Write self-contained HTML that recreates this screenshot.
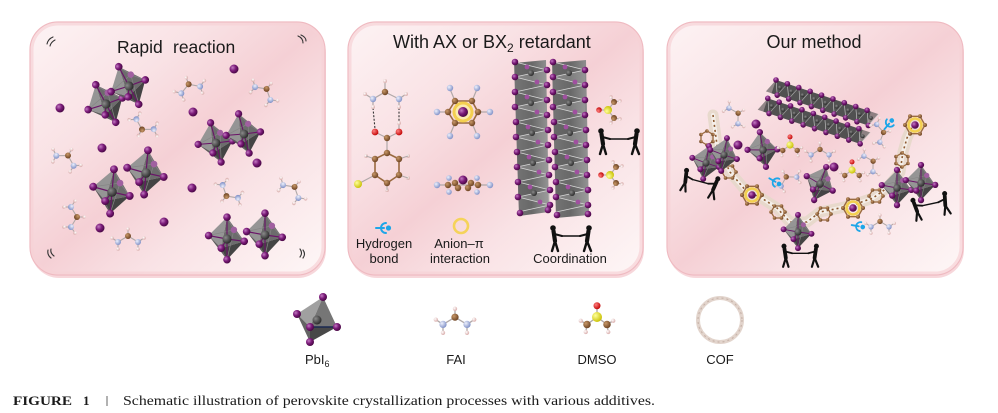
<!DOCTYPE html>
<html><head><meta charset="utf-8">
<style>
html,body{margin:0;padding:0;background:#fff;}
svg{display:block;}
text{font-family:"Liberation Sans",Arial,sans-serif;fill:#1a1a1a;}
.serif{font-family:"Liberation Serif","Times New Roman",serif;}
</style></head>
<body>
<svg width="998" height="413" viewBox="0 0 998 413" xmlns="http://www.w3.org/2000/svg" xmlns:xlink="http://www.w3.org/1999/xlink">
<defs>
  <linearGradient id="pg" x1="0" y1="0" x2="1" y2="1">
    <stop offset="0" stop-color="#fdf3f4"/>
    <stop offset="0.3" stop-color="#f9e2e5"/>
    <stop offset="0.5" stop-color="#f5d0d5"/>
    <stop offset="0.68" stop-color="#f9e2e5"/>
    <stop offset="1" stop-color="#fef7f7"/>
  </linearGradient>
  <linearGradient id="divg" x1="0" y1="0" x2="0" y2="1">
    <stop offset="0" stop-color="#f6c8cd"/>
    <stop offset="0.75" stop-color="#e79aa6"/>
    <stop offset="1" stop-color="#b070c8"/>
  </linearGradient>
  <linearGradient id="colg" x1="0" y1="0" x2="1" y2="0">
    <stop offset="0" stop-color="#767676"/>
    <stop offset="0.5" stop-color="#686868"/>
    <stop offset="1" stop-color="#959595"/>
  </linearGradient>
  <radialGradient id="gP" cx=".35" cy=".35" r=".7">
    <stop offset="0" stop-color="#c27ac2"/>
    <stop offset="0.5" stop-color="#7a1a78"/>
    <stop offset="1" stop-color="#440640"/>
  </radialGradient>
  <radialGradient id="gG" cx=".35" cy=".35" r=".7">
    <stop offset="0" stop-color="#8a8a8a"/>
    <stop offset="1" stop-color="#262626"/>
  </radialGradient>
  <radialGradient id="gB" cx=".35" cy=".35" r=".7">
    <stop offset="0" stop-color="#c89868"/>
    <stop offset="1" stop-color="#6a4020"/>
  </radialGradient>
  <radialGradient id="gN" cx=".35" cy=".35" r=".7">
    <stop offset="0" stop-color="#eef1fc"/>
    <stop offset="1" stop-color="#7d8ec6"/>
  </radialGradient>
  <radialGradient id="gH" cx=".35" cy=".35" r=".7">
    <stop offset="0" stop-color="#ffffff"/>
    <stop offset="1" stop-color="#d8aaa8"/>
  </radialGradient>
  <radialGradient id="gS" cx=".35" cy=".35" r=".7">
    <stop offset="0" stop-color="#ffff9a"/>
    <stop offset="1" stop-color="#c8c000"/>
  </radialGradient>
  <radialGradient id="gO" cx=".35" cy=".35" r=".7">
    <stop offset="0" stop-color="#ff8080"/>
    <stop offset="1" stop-color="#c00000"/>
  </radialGradient>

  <g id="oct">
    <polygon points="0,-19 -16,-3 -5,8" fill="#959595"/>
    <polygon points="0,-19 -5,8 15,2" fill="#6c6c6c"/>
    <polygon points="-16,-3 -5,8 0,18" fill="#5c5c5c"/>
    <polygon points="-5,8 15,2 0,18" fill="#444"/>
    <path d="M0,-19 L6,-8 L15,2 M6,-8 L-16,-3 M6,-8 L0,18" stroke="#858585" stroke-width=".6" fill="none"/>
    <g stroke="#6a1468" stroke-width="1">
      <line x1="0" y1="0" x2="0" y2="-19"/><line x1="0" y1="0" x2="-16" y2="-3"/>
      <line x1="0" y1="0" x2="-5" y2="8"/><line x1="0" y1="0" x2="15" y2="2"/>
      <line x1="0" y1="0" x2="0" y2="18"/>
    </g>
    <circle cx="0" cy="0" r="4" fill="url(#gG)"/>
    <circle cx="6" cy="-8" r="2.8" fill="#a060a0"/>
    <circle cx="0" cy="-19" r="3.3" fill="url(#gP)"/>
    <circle cx="-16" cy="-3" r="3.3" fill="url(#gP)"/>
    <circle cx="-5" cy="8" r="3.3" fill="url(#gP)"/>
    <circle cx="15" cy="2" r="3.3" fill="url(#gP)"/>
    <circle cx="0" cy="18" r="3.3" fill="url(#gP)"/>
  </g>

  <g id="fa">
    <g stroke="#b0a8a8" stroke-width="1.1">
      <line x1="0" y1="-4" x2="0" y2="-11"/>
      <line x1="0" y1="-4" x2="-10" y2="2"/>
      <line x1="0" y1="-4" x2="10" y2="2"/>
      <line x1="-10" y1="2" x2="-16" y2="-2"/>
      <line x1="-10" y1="2" x2="-10" y2="9"/>
      <line x1="10" y1="2" x2="16" y2="-2"/>
      <line x1="10" y1="2" x2="10" y2="9"/>
    </g>
    <circle cx="0" cy="-11" r="1.8" fill="url(#gH)"/>
    <circle cx="-16" cy="-2" r="1.8" fill="url(#gH)"/>
    <circle cx="-10" cy="9" r="1.8" fill="url(#gH)"/>
    <circle cx="16" cy="-2" r="1.8" fill="url(#gH)"/>
    <circle cx="10" cy="9" r="1.8" fill="url(#gH)"/>
    <circle cx="0" cy="-4" r="3" fill="url(#gB)"/>
    <circle cx="-10" cy="2" r="3" fill="url(#gN)"/>
    <circle cx="10" cy="2" r="3" fill="url(#gN)"/>
  </g>

  <g id="dmso">
    <g stroke="#b0a8a8" stroke-width="1.1">
      <line x1="0" y1="0" x2="0" y2="-9"/>
      <line x1="0" y1="0" x2="-8" y2="6"/>
      <line x1="0" y1="0" x2="8" y2="6"/>
      <line x1="-8" y1="6" x2="-13" y2="3"/>
      <line x1="-8" y1="6" x2="-9" y2="12"/>
      <line x1="8" y1="6" x2="13" y2="3"/>
      <line x1="8" y1="6" x2="9" y2="12"/>
    </g>
    <circle cx="-13" cy="3" r="1.7" fill="url(#gH)"/>
    <circle cx="-9" cy="12" r="1.7" fill="url(#gH)"/>
    <circle cx="13" cy="3" r="1.7" fill="url(#gH)"/>
    <circle cx="9" cy="12" r="1.7" fill="url(#gH)"/>
    <circle cx="0" cy="-9" r="2.8" fill="url(#gO)"/>
    <circle cx="-8" cy="6" r="3" fill="url(#gB)"/>
    <circle cx="8" cy="6" r="3" fill="url(#gB)"/>
    <circle cx="0" cy="0" r="4" fill="url(#gS)"/>
  </g>

  <circle id="ion" cx="0" cy="0" r="4.5" fill="url(#gP)"/>

  <g id="pull" fill="none" stroke="#111" stroke-linecap="round">
    <circle cx="0" cy="-11" r="2.8" fill="#111" stroke="none"/>
    <path d="M0.5,-8 L2,2" stroke-width="4.2"/>
    <path d="M2,2 L-1,12 M2,2 L5,12" stroke-width="2.4"/>
    <path d="M1.5,-5 L9,-3" stroke-width="2"/>
    <path d="M9,-3 L27,-3" stroke-width="1.5"/>
    <circle cx="36" cy="-11" r="2.8" fill="#111" stroke="none"/>
    <path d="M35.5,-8 L34,2" stroke-width="4.2"/>
    <path d="M34,2 L31,12 M34,2 L38,12" stroke-width="2.4"/>
    <path d="M34.5,-5 L27,-3" stroke-width="2"/>
  </g>

  <g id="seg">
    <polygon points="0,0 32,8 0,15" fill="#505050" opacity=".35"/>
    <polygon points="0,15 32,8 32,23" fill="#a8a8a8" opacity=".35"/>
    <path d="M0,0 L32,8 L0,15 L32,23 L0,30" stroke="#d8d8d8" stroke-width=".7" fill="none"/>
    <circle cx="16" cy="11" r="3" fill="url(#gG)"/>
    <circle cx="12" cy="5" r="2.4" fill="#a050a0"/>
    <circle cx="22" cy="20" r="2.4" fill="#a050a0"/>
    <circle cx="0" cy="0" r="3.3" fill="url(#gP)"/>
    <circle cx="32" cy="8" r="3.3" fill="url(#gP)"/>
    <circle cx="0" cy="15" r="3.3" fill="url(#gP)"/>
    <circle cx="32" cy="23" r="3.3" fill="url(#gP)"/>
  </g>

  <g id="sseg">
    <polygon points="0,0 12,0 6,14 -6,14" fill="#4a4a4a" opacity=".6"/>
    <path d="M0,0 L6,14 L12,0" stroke="#cfcfcf" stroke-width=".6" fill="none"/>
    <circle cx="6" cy="6" r="2" fill="url(#gG)"/>
    <circle cx="0" cy="0" r="2.8" fill="url(#gP)"/>
    <circle cx="6" cy="14" r="2.8" fill="url(#gP)"/>
  </g>

  <g id="hb" fill="none" stroke="#1ea6e8" stroke-width="2" stroke-linecap="round">
    <path d="M-6,0 L2,0"/>
    <path d="M4,-5 A5,5 0 0 0 4,5"/>
    <circle cx="6.5" cy="0" r="2.6" fill="#1ea6e8" stroke="none"/>
  </g>

  <g id="hex">
    <polygon points="7,0 3.5,6 -3.5,6 -7,0 -3.5,-6 3.5,-6" fill="none" stroke="#9a6a40" stroke-width="1.3"/>
    <g fill="url(#gB)">
      <circle cx="7" cy="0" r="1.8"/><circle cx="3.5" cy="6" r="1.8"/><circle cx="-3.5" cy="6" r="1.8"/>
      <circle cx="-7" cy="0" r="1.8"/><circle cx="-3.5" cy="-6" r="1.8"/><circle cx="3.5" cy="-6" r="1.8"/>
    </g>
  </g>

  <g id="cofring">
    <polygon points="10,0 5,8.7 -5,8.7 -10,0 -5,-8.7 5,-8.7" fill="none" stroke="#9a6a40" stroke-width="1.4"/>
    <g fill="url(#gB)">
      <circle cx="10" cy="0" r="2"/><circle cx="5" cy="8.7" r="2"/><circle cx="-5" cy="8.7" r="2"/>
      <circle cx="-10" cy="0" r="2"/><circle cx="-5" cy="-8.7" r="2"/><circle cx="5" cy="-8.7" r="2"/>
    </g>
    <circle r="6.5" fill="none" stroke="#f3cf4f" stroke-width="2.6"/>
    <circle r="3.8" fill="url(#gP)"/>
  </g>
</defs>

<rect width="998" height="413" fill="#fff"/>

<g>
  <rect x="31" y="25" width="295" height="253" rx="28" fill="#f1b7be" opacity=".55"/>
  <rect x="30" y="22" width="295" height="253" rx="28" fill="url(#pg)" stroke="#efbac1" stroke-width="1.2"/>
  <rect x="32" y="24" width="291" height="249" rx="26" fill="none" stroke="#f6d2d6" stroke-width="3" opacity=".7"/>

  <rect x="349" y="25" width="295" height="253" rx="28" fill="#f1b7be" opacity=".55"/>
  <rect x="348" y="22" width="295" height="253" rx="28" fill="url(#pg)" stroke="#efbac1" stroke-width="1.2"/>
  <rect x="350" y="24" width="291" height="249" rx="26" fill="none" stroke="#f6d2d6" stroke-width="3" opacity=".7"/>

  <rect x="668" y="25" width="296" height="253" rx="28" fill="#f1b7be" opacity=".55"/>
  <rect x="667" y="22" width="296" height="253" rx="28" fill="url(#pg)" stroke="#efbac1" stroke-width="1.2"/>
  <rect x="669" y="24" width="292" height="249" rx="26" fill="none" stroke="#f6d2d6" stroke-width="3" opacity=".7"/>
</g>

<!-- PANEL 1 -->
<text x="117" y="53" font-size="17.5">Rapid</text>
<text x="173" y="53" font-size="17.5">reaction</text>
<g fill="none" stroke="#333" stroke-width="1.1" stroke-linecap="round">
  <path d="M47,44 Q48,39 53,37"/><path d="M50,46 Q51,42 55,40"/>
  <path d="M298,36 Q303,38 303,43"/><path d="M301,35 Q306,37 306,41"/>
  <path d="M48,250 Q47,255 51,258"/><path d="M51,249 Q50,253 54,256"/>
  <path d="M300,249 Q303,253 300,257"/><path d="M303,250 Q306,254 303,258"/>
</g>

<use href="#oct" transform="translate(106,104) rotate(-28) scale(1.15)"/>
<use href="#oct" transform="translate(129,86) rotate(-28) scale(1.15)"/>
<use href="#oct" transform="translate(216,143) rotate(-15) scale(1.1)"/>
<use href="#oct" transform="translate(244,134) rotate(-15) scale(1.1)"/>
<use href="#oct" transform="translate(112,192) rotate(5) scale(1.2)"/>
<use href="#oct" transform="translate(146,173) rotate(5) scale(1.2)"/>
<use href="#oct" transform="translate(227,239) rotate(0) scale(1.15)"/>
<use href="#oct" transform="translate(265,235) rotate(0) scale(1.15)"/>

<use href="#ion" transform="translate(60,108)"/>
<use href="#ion" transform="translate(234,69)"/>
<use href="#ion" transform="translate(193,112)"/>
<use href="#ion" transform="translate(102,148)"/>
<use href="#ion" transform="translate(257,163)"/>
<use href="#ion" transform="translate(192,188)"/>
<use href="#ion" transform="translate(164,222)"/>
<use href="#ion" transform="translate(100,228)"/>

<use href="#fa" transform="translate(190,88) rotate(-20)"/>
<use href="#fa" transform="translate(264,92) rotate(40)"/>
<use href="#fa" transform="translate(144,126) rotate(-150)"/>
<use href="#fa" transform="translate(66,159) rotate(30)"/>
<use href="#fa" transform="translate(229,193) rotate(-140)"/>
<use href="#fa" transform="translate(292,190) rotate(40)"/>
<use href="#fa" transform="translate(73,217) rotate(90)"/>
<use href="#fa" transform="translate(128,240) rotate(0)"/>

<!-- PANEL 2 -->
<text x="393" y="48" font-size="18">With AX or BX<tspan font-size="12" dy="4">2</tspan><tspan dy="-4"> retardant</tspan></text>

<line x1="422" y1="76" x2="422" y2="275" stroke="url(#divg)" stroke-width="1.3"/>
<line x1="502" y1="70" x2="502" y2="275" stroke="url(#divg)" stroke-width="1.3"/>

<g stroke="#b0a8a8" stroke-width="1.2">
  <line x1="385" y1="81" x2="385" y2="92"/>
  <line x1="385" y1="92" x2="373" y2="99"/><line x1="385" y1="92" x2="399" y2="99"/>
  <line x1="373" y1="99" x2="365" y2="94"/><line x1="373" y1="99" x2="373" y2="106"/>
  <line x1="399" y1="99" x2="406" y2="94"/><line x1="399" y1="99" x2="399" y2="106"/>
  <line x1="375" y1="132" x2="387" y2="138"/><line x1="399" y1="132" x2="387" y2="138"/>
  <line x1="399" y1="132" x2="399" y2="124"/>
  <line x1="387" y1="138" x2="387" y2="153"/>
  <line x1="375" y1="175" x2="358" y2="184"/>
</g>
<g stroke="#333" stroke-width="1.1" stroke-dasharray="2 1.6">
  <line x1="373" y1="108" x2="375" y2="129"/>
  <line x1="399" y1="108" x2="399" y2="121"/>
</g>
<polygon points="387,153 399,159 399,175 387,183 375,175 375,159" fill="none" stroke="#9a6a40" stroke-width="1.6"/>
<g fill="url(#gH)">
  <circle cx="385" cy="81" r="2"/><circle cx="365" cy="94" r="2"/><circle cx="373" cy="107" r="2"/>
  <circle cx="406" cy="94" r="2"/><circle cx="399" cy="107" r="2"/><circle cx="399" cy="123" r="2"/>
  <circle cx="366" cy="156" r="2"/><circle cx="408" cy="156" r="2"/><circle cx="408" cy="178" r="2"/>
  <circle cx="387" cy="190" r="2"/>
</g>
<line x1="375" y1="159" x2="366" y2="156" stroke="#b0a8a8"/>
<line x1="399" y1="159" x2="408" y2="156" stroke="#b0a8a8"/>
<line x1="399" y1="175" x2="408" y2="178" stroke="#b0a8a8"/>
<line x1="387" y1="183" x2="387" y2="190" stroke="#b0a8a8"/>
<circle cx="385" cy="92" r="3.2" fill="url(#gB)"/>
<circle cx="373" cy="99" r="3.2" fill="url(#gN)"/>
<circle cx="399" cy="99" r="3.2" fill="url(#gN)"/>
<circle cx="375" cy="132" r="3.4" fill="url(#gO)"/>
<circle cx="399" cy="132" r="3.4" fill="url(#gO)"/>
<circle cx="387" cy="138" r="3.2" fill="url(#gB)"/>
<g fill="url(#gB)">
  <circle cx="387" cy="153" r="3.2"/><circle cx="399" cy="159" r="3.2"/><circle cx="399" cy="175" r="3.2"/>
  <circle cx="387" cy="183" r="3.2"/><circle cx="375" cy="175" r="3.2"/><circle cx="375" cy="159" r="3.2"/>
</g>
<circle cx="358" cy="184" r="4" fill="url(#gS)"/>

<g stroke="#b0a8a8" stroke-width="1.2">
  <line x1="448" y1="112" x2="437" y2="112"/><line x1="478" y1="112" x2="490" y2="112"/>
  <line x1="455" y1="101" x2="450" y2="89"/><line x1="472" y1="101" x2="477" y2="89"/>
  <line x1="455" y1="123" x2="450" y2="135"/><line x1="472" y1="123" x2="477" y2="135"/>
</g>
<polygon points="448,112 455,101 472,101 478,112 472,123 455,123" fill="none" stroke="#9a6a40" stroke-width="1.6"/>
<circle cx="463" cy="112" r="9" fill="#fbeab0" stroke="#f4cf50" stroke-width="3"/>
<circle cx="463" cy="112" r="5" fill="url(#gP)"/>
<g fill="url(#gB)">
  <circle cx="448" cy="112" r="3.2"/><circle cx="455" cy="101" r="3.2"/><circle cx="472" cy="101" r="3.2"/>
  <circle cx="478" cy="112" r="3.2"/><circle cx="472" cy="123" r="3.2"/><circle cx="455" cy="123" r="3.2"/>
</g>
<g fill="url(#gN)">
  <circle cx="437" cy="112" r="3.2"/><circle cx="490" cy="112" r="3.2"/>
  <circle cx="450" cy="88" r="3.2"/><circle cx="477" cy="88" r="3.2"/>
  <circle cx="450" cy="136" r="3.2"/><circle cx="477" cy="136" r="3.2"/>
</g>

<line x1="437" y1="185" x2="490" y2="185" stroke="#b0a8a8" stroke-width="1.2"/>
<g fill="url(#gN)">
  <circle cx="449" cy="178" r="2.8"/><circle cx="477" cy="178" r="2.8"/>
  <circle cx="449" cy="192" r="2.8"/><circle cx="477" cy="192" r="2.8"/>
</g>
<g fill="url(#gB)">
  <circle cx="448" cy="185" r="3.2"/><circle cx="455" cy="183" r="3.2"/><circle cx="471" cy="183" r="3.2"/>
  <circle cx="478" cy="185" r="3.2"/><circle cx="458" cy="188" r="3.2"/><circle cx="468" cy="188" r="3.2"/>
</g>
<circle cx="463" cy="180" r="4.5" fill="url(#gP)"/>
<g fill="url(#gN)"><circle cx="437" cy="185" r="3.2"/><circle cx="490" cy="185" r="3.2"/></g>

<polygon points="514,63 546,60 549,212 519,216" fill="url(#colg)"/>
<polygon points="552,63 586,60 589,215 556,218" fill="url(#colg)"/>
<use href="#seg" transform="translate(515,62)"/>
<use href="#seg" transform="translate(515,92)"/>
<use href="#seg" transform="translate(516,122)"/>
<use href="#seg" transform="translate(517,152)"/>
<use href="#seg" transform="translate(518,182)"/>
<circle cx="520" cy="213" r="3.3" fill="url(#gP)"/>
<circle cx="548" cy="210" r="3.3" fill="url(#gP)"/>
<use href="#seg" transform="translate(553,62)"/>
<use href="#seg" transform="translate(553,92)"/>
<use href="#seg" transform="translate(554,122)"/>
<use href="#seg" transform="translate(555,152)"/>
<use href="#seg" transform="translate(556,182)"/>
<circle cx="557" cy="215" r="3.3" fill="url(#gP)"/>
<circle cx="588" cy="214" r="3.3" fill="url(#gP)"/>

<use href="#dmso" transform="translate(608,110) rotate(-90)"/>
<use href="#dmso" transform="translate(610,175) rotate(-90)"/>
<use href="#pull" transform="translate(601,142)"/>

<use href="#hb" transform="translate(382,228)"/>
<circle cx="461" cy="226" r="7" fill="none" stroke="#f5d35a" stroke-width="2.6"/>
<use href="#pull" transform="translate(553,239)"/>

<text x="384" y="248" font-size="13" text-anchor="middle">Hydrogen</text>
<text x="384" y="263" font-size="13" text-anchor="middle">bond</text>
<text x="459" y="248" font-size="13" text-anchor="middle">Anion–π</text>
<text x="460" y="263" font-size="13" text-anchor="middle">interaction</text>
<text x="570" y="263" font-size="13" text-anchor="middle">Coordination</text>

<!-- PANEL 3 -->
<text x="814" y="48" font-size="18" text-anchor="middle">Our method</text>

<g transform="translate(776,80) rotate(18.4)">
  <rect x="0" y="0" width="100" height="14" fill="#5e5e5e"/>
  <rect x="-2" y="20" width="100" height="14" fill="#5e5e5e"/>
  <use href="#sseg" transform="translate(0,0)"/><use href="#sseg" transform="translate(12,0)"/>
  <use href="#sseg" transform="translate(24,0)"/><use href="#sseg" transform="translate(36,0)"/>
  <use href="#sseg" transform="translate(48,0)"/><use href="#sseg" transform="translate(60,0)"/>
  <use href="#sseg" transform="translate(72,0)"/><use href="#sseg" transform="translate(84,0)"/>
  <use href="#sseg" transform="translate(96,0)"/>
  <use href="#sseg" transform="translate(-2,20)"/><use href="#sseg" transform="translate(10,20)"/>
  <use href="#sseg" transform="translate(22,20)"/><use href="#sseg" transform="translate(34,20)"/>
  <use href="#sseg" transform="translate(46,20)"/><use href="#sseg" transform="translate(58,20)"/>
  <use href="#sseg" transform="translate(70,20)"/><use href="#sseg" transform="translate(82,20)"/>
  <use href="#sseg" transform="translate(94,20)"/>
</g>

<path d="M713,115 L717,145 L730,172 L747,192 L760,197 L777,208 L790,222 L807,222 L820,212 L840,208 L853,205 L873,198 L887,188 L900,172 L903,152 L907,138 L913,125"
      fill="none" stroke="#e6d8ca" stroke-width="11" stroke-linecap="round" stroke-linejoin="round" opacity=".9"/>
<path d="M713,115 L717,145 L730,172 L747,192 L760,197 L777,208 L790,222 L807,222 L820,212 L840,208 L853,205 L873,198 L887,188 L900,172 L903,152 L907,138 L913,125"
      fill="none" stroke="#f5efe9" stroke-width="4" stroke-linecap="round" stroke-linejoin="round"/>
<path d="M713,115 L717,145 L730,172 L747,192 L760,197 L777,208 L790,222 L807,222 L820,212 L840,208 L853,205 L873,198 L887,188 L900,172 L903,152 L907,138 L913,125"
      fill="none" stroke="#8d5a30" stroke-width="1.6" stroke-dasharray="2 3"/>
<use href="#hex" transform="translate(707,138) rotate(90)"/>
<use href="#hex" transform="translate(729,172)"/>
<use href="#hex" transform="translate(778,212)"/>
<use href="#hex" transform="translate(824,214)"/>
<use href="#hex" transform="translate(902,160) rotate(90)"/>
<use href="#hex" transform="translate(876,196)"/>
<use href="#cofring" transform="translate(752,195)"/>
<use href="#cofring" transform="translate(853,208)"/>
<use href="#cofring" transform="translate(915,125)"/>

<use href="#oct" transform="translate(706,163) rotate(10) scale(.9)"/>
<use href="#oct" transform="translate(724,155) rotate(10) scale(.9)"/>
<use href="#oct" transform="translate(763,150) rotate(-10) scale(.95)"/>
<use href="#oct" transform="translate(820,184) rotate(20) scale(.95)"/>
<use href="#oct" transform="translate(798,232) rotate(0) scale(.9)"/>
<use href="#oct" transform="translate(897,188) rotate(0) scale(.95)"/>
<use href="#oct" transform="translate(921,183) rotate(0) scale(.95)"/>

<use href="#ion" transform="translate(756,124)"/>
<use href="#ion" transform="translate(738,145)"/>
<use href="#ion" transform="translate(834,167)"/>

<use href="#fa" transform="translate(735,115) rotate(60) scale(.9)"/>
<use href="#fa" transform="translate(820,153) rotate(0) scale(.9)"/>
<use href="#fa" transform="translate(788,180) rotate(-30) scale(.9)"/>
<use href="#fa" transform="translate(880,133) rotate(80) scale(.9)"/>
<use href="#fa" transform="translate(870,163) rotate(60) scale(.9)"/>
<use href="#fa" transform="translate(880,225) rotate(0) scale(.9)"/>

<use href="#dmso" transform="translate(790,145) scale(.9)"/>
<use href="#dmso" transform="translate(852,170) scale(.9)"/>

<use href="#hb" transform="translate(888,125) rotate(-50) scale(.9)"/>
<use href="#hb" transform="translate(774,181) rotate(30) scale(.9)"/>
<use href="#hb" transform="translate(857,226) rotate(10) scale(.9)"/>

<use href="#pull" transform="translate(684,180) rotate(15) scale(.9)"/>
<use href="#pull" transform="translate(915,210) rotate(-12) scale(.9)"/>
<use href="#pull" transform="translate(784,256) scale(.9)"/>

<!-- LEGEND -->
<g transform="translate(317,318)">
  <polygon points="6,-21 -20,-4 -7,9" fill="#a0a0a0"/>
  <polygon points="6,-21 -7,9 20,9" fill="#767676"/>
  <polygon points="-20,-4 -7,9 -7,24" fill="#646464"/>
  <polygon points="-7,9 20,9 -7,24" fill="#484848"/>
  <circle cx="0" cy="2" r="4.5" fill="url(#gG)"/>
  <path d="M-7,9 L20,9" stroke="#1a2850" stroke-width="1.5"/>
  <circle cx="6" cy="-21" r="4" fill="url(#gP)"/>
  <circle cx="-20" cy="-4" r="4" fill="url(#gP)"/>
  <circle cx="-7" cy="9" r="4" fill="url(#gP)"/>
  <circle cx="20" cy="9" r="4" fill="url(#gP)"/>
  <circle cx="-7" cy="24" r="4" fill="url(#gP)"/>
</g>
<use href="#fa" transform="translate(455,322) scale(1.2)"/>
<use href="#dmso" transform="translate(597,317) scale(1.25)"/>
<g transform="translate(720,320)">
  <circle r="22" fill="none" stroke="#e2d4cc" stroke-width="4"/>
  <circle r="22" fill="none" stroke="#c8b4aa" stroke-width="1.2" stroke-dasharray="2 3"/>
</g>

<text x="305" y="364" font-size="13">PbI<tspan font-size="9" dy="3">6</tspan></text>
<text x="456" y="364" font-size="13" text-anchor="middle">FAI</text>
<text x="597" y="364" font-size="13" text-anchor="middle">DMSO</text>
<text x="720" y="364" font-size="13" text-anchor="middle">COF</text>

<!-- CAPTION -->
<text class="serif" x="13" y="405" font-size="13" font-weight="bold" textLength="59" lengthAdjust="spacingAndGlyphs" fill="#222">FIGURE</text>
<text class="serif" x="83" y="405" font-size="13" font-weight="bold" fill="#222">1</text>
<line x1="107" y1="396" x2="107" y2="406" stroke="#666" stroke-width="1"/>
<text class="serif" x="123" y="405" font-size="14" textLength="532" lengthAdjust="spacingAndGlyphs" fill="#222">Schematic illustration of perovskite crystallization processes with various additives.</text>
</svg>
</body></html>
